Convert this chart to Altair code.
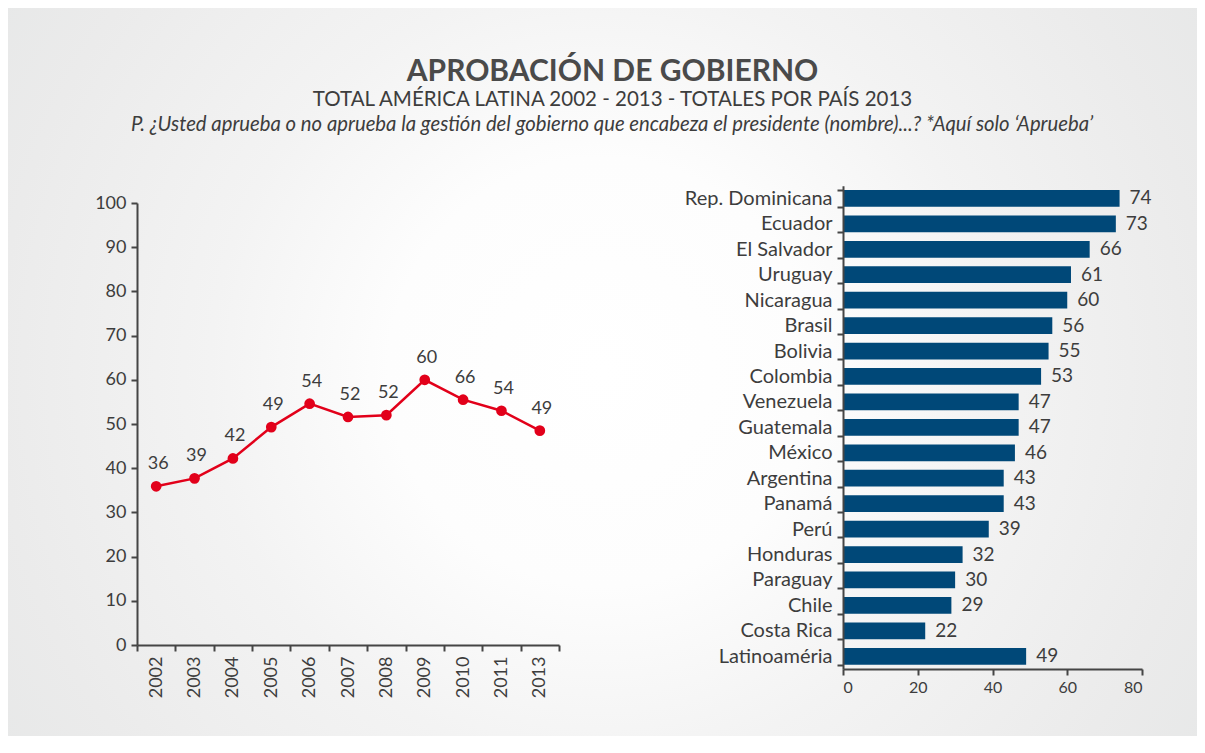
import altair as alt
import pandas as pd

# ---------------- data ----------------
years = ["2002", "2003", "2004", "2005", "2006", "2007", "2008", "2009", "2010", "2011", "2013"]
approval = [35.9, 37.7, 42.2, 49.3, 54.6, 51.6, 52.0, 60.0, 55.5, 53.0, 48.5]
approval_labels = ["36", "39", "42", "49", "54", "52", "52", "60", "66", "54", "49"]

countries = ["Rep. Dominicana", "Ecuador", "El Salvador", "Uruguay", "Nicaragua", "Brasil",
             "Bolivia", "Colombia", "Venezuela", "Guatemala", "México", "Argentina",
             "Panamá", "Perú", "Honduras", "Paraguay", "Chile", "Costa Rica", "Latinoaméria"]
country_values = [74, 73, 66, 61, 60, 56, 55, 53, 47, 47, 46, 43, 43, 39, 32, 30, 29, 22, 49]

line_ticks = list(range(0, 101, 10))
bar_ticks = [0, 20, 40, 60, 80]

TITLE = "APROBACIÓN DE GOBIERNO"
SUBTITLE = "TOTAL AMÉRICA LATINA 2002 - 2013 - TOTALES POR PAÍS 2013"
QUESTION = ("P. ¿Usted aprueba o no aprueba la gestión del gobierno que encabeza el "
            "presidente (nombre)...? *Aquí solo ‘Aprueba’")

# ---------------- layout / style ----------------
W, H = 1189, 728
FONT = "Lato"
TXT = "#3d3d3d"
AX = "#454545"
RED = "#e2001a"
BLUE = "#004878"

line_df = pd.DataFrame({"year": years, "value": approval, "label": approval_labels})
bar_df = pd.DataFrame({"country": countries, "value": country_values})

# background with radial gradient
bg = alt.Chart(pd.DataFrame({"a": [0]})).mark_rect(
    fill={
        "gradient": "radial",
        "x1": 0.5, "y1": 0.5, "r1": 0,
        "x2": 0.5, "y2": 0.5, "r2": 0.6,
        "stops": [
            {"offset": 0.0, "color": "#ffffff"},
            {"offset": 0.3, "color": "#fdfdfd"},
            {"offset": 0.55, "color": "#f3f3f3"},
            {"offset": 0.85, "color": "#ebebeb"},
            {"offset": 1.0, "color": "#e7e8e8"},
        ],
    },
    stroke=None,
).encode(x=alt.value(0), x2=alt.value(W), y=alt.value(0), y2=alt.value(H))

question = alt.Chart(pd.DataFrame({"q": [QUESTION]})).mark_text(
    font=FONT, fontSize=20.3, fontStyle="italic", color=TXT, align="center", baseline="middle"
).encode(text="q:N", x=alt.value(604), y=alt.value(117))

# ---------------- line chart ----------------
lx = alt.X("year:N", sort=years,
           scale=alt.Scale(type="band", domain=years, range=[129, 551], paddingInner=0, paddingOuter=0),
           axis=alt.Axis(orient="bottom", offset=-(H - 637), title=None, labelAngle=270,
                         tickBand="extent", tickSize=6, tickWidth=2, tickColor=AX,
                         domainColor=AX, domainWidth=2, labelFont=FONT, labelFontSize=18,
                         labelColor=TXT, labelPadding=5, grid=False, zindex=1))
ly = alt.Y("value:Q",
           scale=alt.Scale(domain=[0, 100], range=[637, 195], nice=False, zero=True),
           axis=alt.Axis(orient="left", offset=-129, title=None, values=line_ticks,
                         tickSize=6, tickWidth=2, tickColor=AX, domainColor=AX, domainWidth=2,
                         labelFont=FONT, labelFontSize=18, labelColor=TXT, labelPadding=5,
                         grid=False, zindex=1))

line = alt.Chart(line_df).mark_line(color=RED, strokeWidth=2.5).encode(x=lx, y=ly)
points = alt.Chart(line_df).mark_point(filled=True, color=RED, size=115, opacity=1).encode(x=lx, y=ly)
line_text = alt.Chart(line_df).mark_text(font=FONT, fontSize=18, color=TXT, dy=-22, dx=2).encode(
    x=lx, y=ly, text="label:N")
line_chart = alt.layer(line, points, line_text)

# ---------------- bar chart ----------------
by = alt.Y("country:N", sort=countries,
           scale=alt.Scale(type="band", domain=countries, range=[177.7, 661],
                           paddingInner=0.34, paddingOuter=0.17),
           axis=alt.Axis(orient="left", offset=-835, title=None, tickBand="extent",
                         tickSize=6, tickWidth=2, tickColor=AX, domainColor=AX, domainWidth=2,
                         labelFont=FONT, labelFontSize=20, labelColor=TXT, labelPadding=5,
                         grid=False, zindex=1))
bx = alt.X("value:Q",
           scale=alt.Scale(domain=[0, 80], range=[835, 1134], nice=False),
           axis=alt.Axis(orient="bottom", offset=-(H - 661), title=None, values=bar_ticks,
                         tickSize=6, tickWidth=2, tickColor=AX, domainColor=AX, domainWidth=2,
                         labelFont=FONT, labelFontSize=16, labelColor=TXT, labelPadding=4,
                         grid=False, zindex=1))

bars = alt.Chart(bar_df).mark_bar(color=BLUE).encode(x=bx, y=by)
bar_text = alt.Chart(bar_df).mark_text(font=FONT, fontSize=19, color=TXT, align="left",
                                       baseline="middle", dx=10).encode(
    x=bx, y=by, text="value:Q")
bar_chart = alt.layer(bars, bar_text)

chart = alt.layer(bg, question, line_chart, bar_chart).resolve_scale(
    x="independent", y="independent"
).properties(
    width=W, height=H,
    autosize=alt.AutoSizeParams(type="none"),
    padding=0,
    title=alt.TitleParams(
        text=TITLE, subtitle=SUBTITLE, anchor="middle", dx=10, offset=-112,
        font=FONT, fontSize=30, fontWeight="bold", color="#4a4a4a",
        subtitleFont=FONT, subtitleFontSize=20.5, subtitleColor=TXT, subtitlePadding=3,
    ),
).configure_view(stroke=None).configure(background="#ebebeb")

chart.save("out.html", embed_options={"renderer": "svg", "actions": False})
